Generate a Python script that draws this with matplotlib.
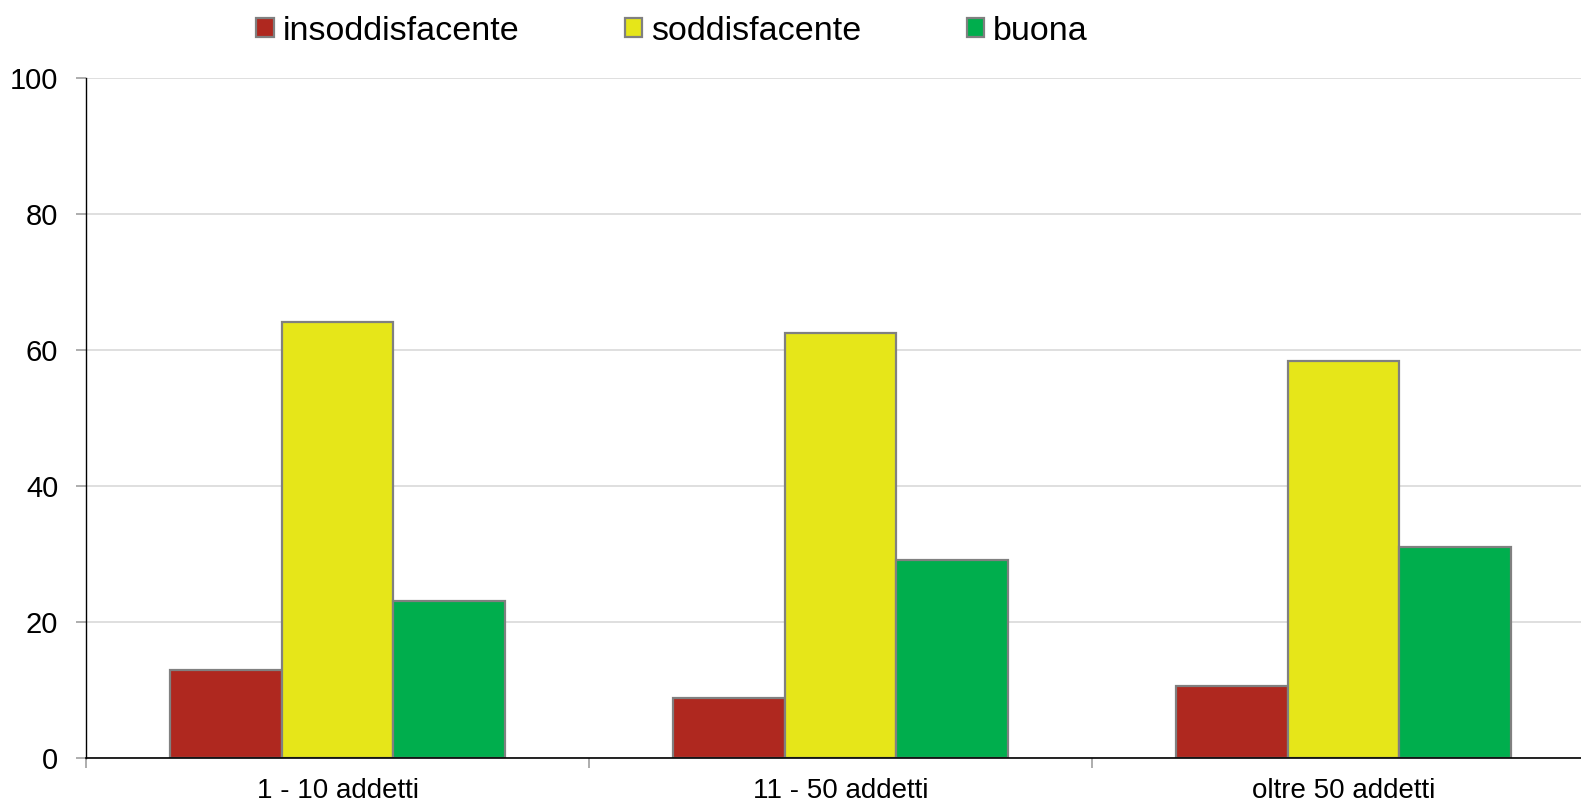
import numpy as np
import matplotlib.pyplot as plt

plt.rcParams['font.family'] = ['Liberation Sans', 'DejaVu Sans']

categorie = ["1 - 10 addetti", "11 - 50 addetti", "oltre 50 addetti"]
serie = ["insoddisfacente", "soddisfacente", "buona"]
insoddisfacente = [12.9, 8.7, 10.6]
soddisfacente = [64.0, 62.4, 58.3]
buona = [23.1, 29.0, 31.0]
colori = ["#AF281F", "#E6E619", "#00AE4D"]

valori = [insoddisfacente, soddisfacente, buona]

fig = plt.figure(figsize=(15.81, 8.02), dpi=100)
ax = fig.add_axes([86/1581, 1-757.6/802, 1-86/1581, (757.6-77.7)/802])

x = np.arange(len(categorie))
w = 0.222
for i, (nome, v) in enumerate(zip(serie, valori)):
    ax.bar(x + (i-1)*w, v, width=w, color=colori[i], edgecolor="#808080",
           linewidth=1.6, label=nome, zorder=3)

ax.set_ylim(0, 100)
ax.set_xlim(-0.5, 2.472)
ax.set_yticks([0, 20, 40, 60, 80, 100])
ax.grid(axis="y", color="#D9D9D9", linewidth=1.2, zorder=0)
ax.set_xticks(x)
ax.set_xticklabels(categorie)
ax.set_xticks([-0.5, 0.5, 1.5], minor=True)
ax.tick_params(axis="x", which="major", length=0, pad=15, labelsize=20)
ax.tick_params(axis="x", which="minor", length=7, width=1.2, color="#A0A0A0")
ax.tick_params(axis="y", length=7, width=1.2, color="#A0A0A0", pad=13, labelsize=21)

for s in ["top", "right"]:
    ax.spines[s].set_visible(False)
ax.spines["left"].set_color("black")
ax.spines["bottom"].set_color("black")
ax.spines["left"].set_linewidth(1)
ax.spines["bottom"].set_linewidth(1.2)
ax.spines["bottom"].set_zorder(4)

fig.legend(loc="center", bbox_to_anchor=(672/1581, 1-31/802), ncol=3,
           frameon=False, fontsize=24.5, handlelength=0.52, handleheight=0.52,
           handletextpad=0.25, columnspacing=3.1)

plt.savefig("out.png", dpi=100)
